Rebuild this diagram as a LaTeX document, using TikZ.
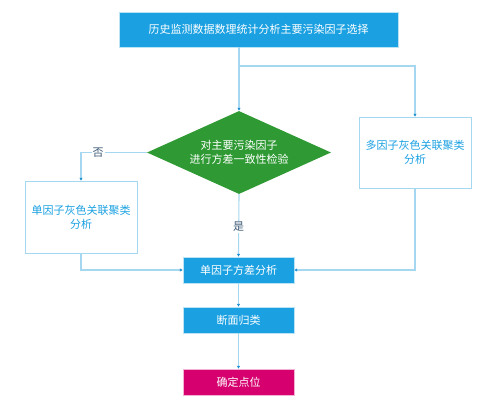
\documentclass[tikz,border=0pt]{standalone}
\usepackage{fontspec}
\setmainfont{Noto Sans CJK SC}
\usepackage{xcolor}
\usetikzlibrary{shapes.geometric,arrows.meta,positioning,calc}

\definecolor{boxblue}{HTML}{1BA1E2}
\definecolor{decgreen}{HTML}{2F9A34}
\definecolor{endpink}{HTML}{D6006F}
\definecolor{linkblue}{HTML}{A6D7F0}
\definecolor{tipblue}{HTML}{1C8FD2}
\definecolor{labelgray}{HTML}{3E5C78}

\begin{document}
\begin{tikzpicture}[
  x=1pt, y=-1pt,
  font=\fontsize{11}{14}\selectfont,
  stepbox/.style={
    rectangle, draw=white!70!boxblue, fill=boxblue, text=white,
    minimum width=111pt, minimum height=26pt,
    align=center, inner sep=2pt
  },
  openbox/.style={
    rectangle, draw=linkblue, fill=white, text=boxblue,
    minimum width=112pt, minimum height=71pt,
    align=center, inner sep=2pt
  },
  decision/.style={
    diamond, draw=none, fill=decgreen, text=white,
    minimum width=184pt, minimum height=83pt,
    aspect=2.2, align=center, inner sep=1pt
  },
  lbl/.style={fill=white, text=labelgray, inner sep=1pt},
  arr/.style={-{Latex[length=3pt,width=3.5pt,color=tipblue]}, draw=linkblue, line width=1.1pt}
]
\useasboundingbox (0,0) rectangle (481,410);

% Main column nodes
\node[stepbox, minimum width=279pt, minimum height=35pt] (source) at (258.5,29.5)
  {历史监测数据数理统计分析主要污染因子选择};
\node[decision] (check) at (239,152.5) {对主要污染因子\\进行方差一致性检验};
\node[openbox] (multigrey) at (415,152.5) {多因子灰色关联聚类\\分析};
\node[openbox, minimum height=72pt] (singlegrey) at (81,217) {单因子灰色关联聚类\\分析};
\node[stepbox] (anova) at (238.5,270) {单因子方差分析};
\node[stepbox] (section) at (238.5,320) {断面归类};
\node[stepbox, fill=endpink, draw=white!70!endpink] (point) at (238.5,382) {确定点位};
\coordinate (split) at (239,66);

% Arrows down the main spine
\draw[arr] (check.north |- source.south) -- (check.north);
\draw[arr] (split) -| (multigrey.north);
\draw[arr] (check.west) -| node[lbl, pos=0.37]{否} (singlegrey.north);
\draw[arr] (check.south) -- node[lbl, pos=0.52]{是} (anova.north);
\draw[arr] (singlegrey.south) |- (anova.west);
\draw[arr] (multigrey.south) |- (anova.east);
\draw[arr] (anova) -- (section);
\draw[arr] (section) -- (point);

\end{tikzpicture}
\end{document}
